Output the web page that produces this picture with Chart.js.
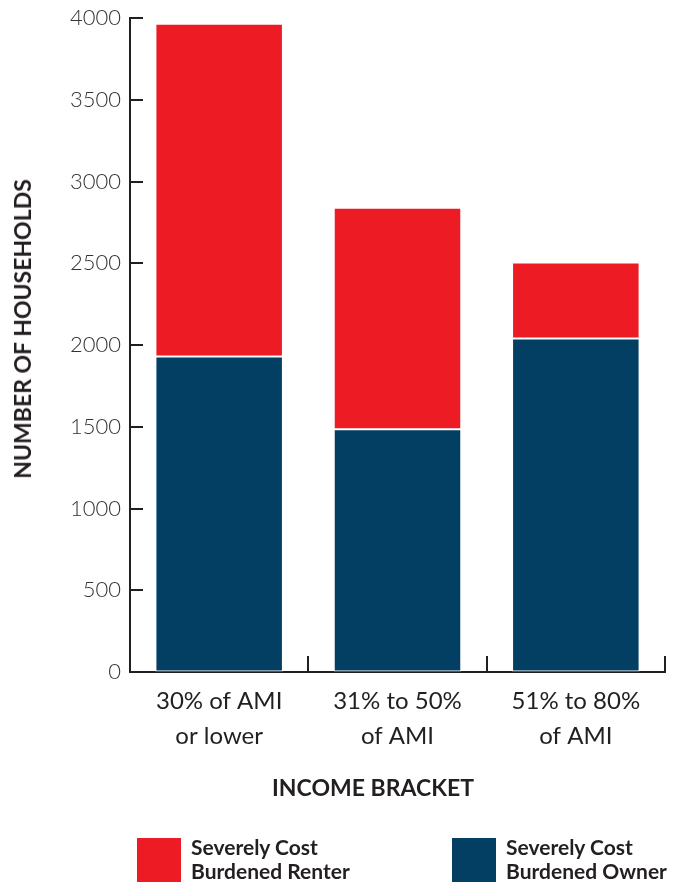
<!DOCTYPE html>
<html>
<head>
<meta charset="utf-8">
<script src="https://cdn.jsdelivr.net/npm/chart.js@4"></script>
<style>
    body { margin: 0; background: #fff; }
    #wrap { position: relative; width: 682px; height: 883px; font-family: Lato, 'Open Sans', sans-serif; color: #231f20; }
    #chart { position: absolute; left: 0; top: 0; }
    .titulo { position: absolute; font-weight: 700; font-size: 23px; white-space: nowrap; }
    #titulo-y { left: 22px; top: 329px; transform: translate(-50%, -50%) rotate(-90deg); }
    #titulo-x { left: 373px; top: 787px; transform: translate(-50%, -50%); }
    .legenda { position: absolute; top: 838px; display: flex; align-items: flex-start; }
    .legenda .caixa { width: 44px; height: 44px; margin-right: 10px; }
    .legenda .texto { font-weight: 700; font-size: 21px; line-height: 24px; margin-top: -3px; }
</style>
</head>
<body>
<div id="wrap">
    <canvas id="chart" width="682" height="883"></canvas>
    <div class="titulo" id="titulo-y">NUMBER OF HOUSEHOLDS</div>
    <div class="titulo" id="titulo-x">INCOME BRACKET</div>
    <div class="legenda" style="left:137px"><div class="caixa" style="background:#ED1C24"></div><div class="texto">Severely Cost<br>Burdened Renter</div></div>
    <div class="legenda" style="left:452px"><div class="caixa" style="background:#033F63"></div><div class="texto">Severely Cost<br>Burdened Owner</div></div>
</div>
<script>
// Faixas de renda e domicílios por tipo
const faixas = [['30% of AMI', 'or lower'], ['31% to 50%', 'of AMI'], ['51% to 80%', 'of AMI']];
const proprietarios = [1930, 1485, 2040];
const inquilinos = [2035, 1355, 465];
const ticksY = [0, 500, 1000, 1500, 2000, 2500, 3000, 3500, 4000];

const corTexto = '#231f20';
const corVermelho = '#ED1C24';
const corAzul = '#033F63';

// Marcas curtas voltadas para dentro dos eixos
const marcasEixos = {
    id: 'marcasEixos',
    afterDatasetsDraw(chart) {
        const { ctx, chartArea, scales } = chart;
        ctx.save();
        ctx.strokeStyle = corTexto;
        ctx.lineWidth = 2;
        ctx.beginPath();
        ticksY.forEach(v => {
            const y = Math.round(scales.y.getPixelForValue(v));
            ctx.moveTo(chartArea.left, y);
            ctx.lineTo(chartArea.left + 13, y);
        });
        for (let i = 1; i <= faixas.length; i++) {
            const x = i < faixas.length
                ? (scales.x.getPixelForValue(i - 1) + scales.x.getPixelForValue(i)) / 2
                : chartArea.right;
            ctx.moveTo(Math.round(x), chartArea.bottom);
            ctx.lineTo(Math.round(x), chartArea.bottom - 16);
        }
        ctx.stroke();
        ctx.restore();
    }
};

new Chart(document.getElementById('chart'), {
    type: 'bar',
    data: {
        labels: faixas,
        datasets: [
            {
                label: 'Severely Cost Burdened Owner',
                data: proprietarios,
                backgroundColor: corAzul,
                borderColor: '#ffffff',
                borderWidth: 1,
                borderSkipped: false
            },
            {
                label: 'Severely Cost Burdened Renter',
                data: inquilinos,
                backgroundColor: corVermelho,
                borderColor: '#ffffff',
                borderWidth: 1,
                borderSkipped: false
            }
        ]
    },
    options: {
        responsive: false,
        animation: false,
        layout: { padding: { top: 18, right: 17, left: 0, bottom: 0 } },
        datasets: { bar: { barPercentage: 0.715, categoryPercentage: 1 } },
        scales: {
            x: {
                stacked: true,
                afterFit: s => { s.height = 211; s.paddingLeft = 0; s.paddingRight = 0; },
                grid: { display: true, drawOnChartArea: false, drawTicks: false },
                border: { display: true, color: corTexto, width: 2 },
                ticks: {
                    padding: 12,
                    color: corTexto,
                    font: { family: 'Lato', size: 24, weight: 400, lineHeight: 1.45 }
                }
            },
            y: {
                stacked: true,
                min: 0,
                max: 4000,
                afterFit: s => { s.width = 130; s.paddingTop = 0; s.paddingBottom = 0; },
                afterBuildTicks: s => { s.ticks = ticksY.map(v => ({ value: v })); },
                grid: { display: true, drawOnChartArea: false, drawTicks: false },
                border: { display: true, color: corTexto, width: 2 },
                ticks: {
                    padding: 9,
                    color: '#333333',
                    font: { family: 'Lato', size: 22, weight: 300 },
                    callback: v => String(v)
                }
            }
        },
        plugins: {
            legend: { display: false },
            tooltip: { enabled: false }
        }
    },
    plugins: [marcasEixos]
});
</script>
</body>
</html>
